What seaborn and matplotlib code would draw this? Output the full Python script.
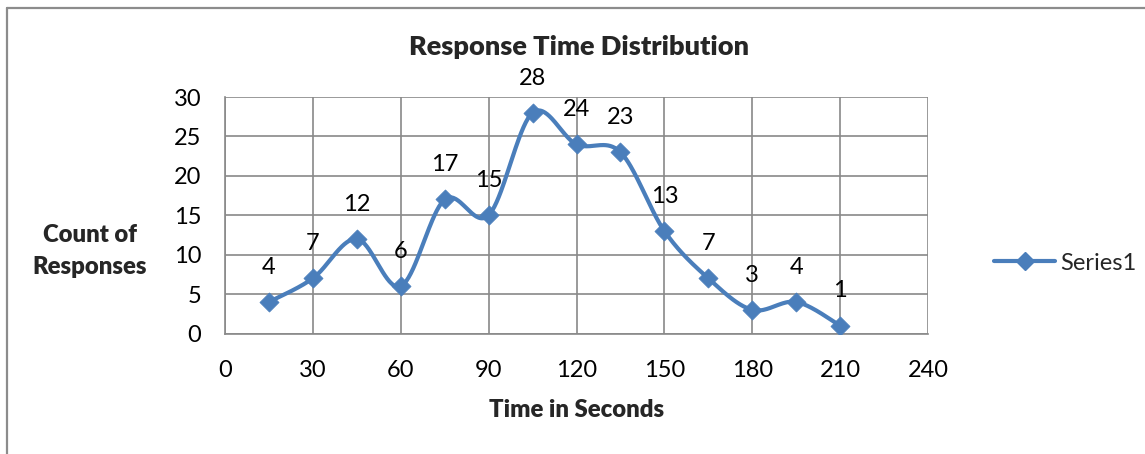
import numpy as np
import pandas as pd
import matplotlib
matplotlib.use("Agg")
import matplotlib.pyplot as plt
from matplotlib.lines import Line2D
import seaborn as sns

# Response time histogram: bin centre (seconds) and number of responses
seconds = [15, 30, 45, 60, 75, 90, 105, 120, 135, 150, 165, 180, 195, 210]
counts = [4, 7, 12, 6, 17, 15, 28, 24, 23, 13, 7, 3, 4, 1]
x_ticks = [0, 30, 60, 90, 120, 150, 180, 210, 240]
y_ticks = [0, 5, 10, 15, 20, 25, 30]
series_name = "Series1"

BLUE = "#4A7EBB"
GRID = "#898989"

sns.set_theme(style="white")
plt.rcParams["font.family"] = ["Lato", "DejaVu Sans"]

df = pd.DataFrame({"seconds": seconds, "count": counts})


def smooth_curve(xs, ys, steps=40):
    """Catmull-Rom style Bezier smoothing through every point."""
    px = np.asarray(xs, float)
    py = np.asarray(ys, float)
    n = len(px)
    out_x, out_y = [], []
    t = np.linspace(0, 1, steps)
    for i in range(n - 1):
        i0, i3 = max(i - 1, 0), min(i + 2, n - 1)
        p0 = np.array([px[i], py[i]])
        p3 = np.array([px[i + 1], py[i + 1]])
        c1 = p0 + (np.array([px[i + 1], py[i + 1]]) - np.array([px[i0], py[i0]])) / 6
        c2 = p3 - (np.array([px[i3], py[i3]]) - np.array([px[i], py[i]])) / 6
        b = ((1 - t) ** 3)[:, None] * p0 + (3 * (1 - t) ** 2 * t)[:, None] * c1 \
            + (3 * (1 - t) * t ** 2)[:, None] * c2 + (t ** 3)[:, None] * p3
        out_x.extend(b[:, 0])
        out_y.extend(b[:, 1])
    return pd.DataFrame({"seconds": out_x, "count": out_y})


curve = smooth_curve(df["seconds"], df["count"])

fig = plt.figure(figsize=(11.45, 4.54), dpi=100)
ax = fig.add_axes([225 / 1145, 1 - 333.5 / 454, (928 - 225) / 1145, (333.5 - 97) / 454])

sns.lineplot(data=curve, x="seconds", y="count", ax=ax, color=BLUE, lw=3.0,
             sort=False, estimator=None, zorder=3)
sns.scatterplot(data=df, x="seconds", y="count", ax=ax, marker="D", s=95,
                color=BLUE, edgecolor=BLUE, linewidth=0.5, zorder=4)

for xv, yv in zip(seconds, counts):
    ax.annotate(str(yv), (xv, yv), xytext=(0, 25), textcoords="offset points",
                ha="center", va="center", fontsize=17, color="black")

ax.set_xlim(0, 240)
ax.set_ylim(0, 30)
ax.set_xticks(x_ticks)
ax.set_yticks(y_ticks)
ax.tick_params(axis="both", labelsize=17, colors=GRID, labelcolor="black",
               length=6, width=1.2, pad=11, direction="out")
ax.tick_params(axis="x", pad=13)
ax.grid(True, color=GRID, lw=1.2)
for side in ["top", "right"]:
    ax.spines[side].set_visible(False)
for side in ["left", "bottom"]:
    ax.spines[side].set_color(GRID)
    ax.spines[side].set_linewidth(1.2)
ax.set_xlabel("")
ax.set_ylabel("")

fig.text(579 / 1145, 1 - 47 / 454, "Response Time Distribution", ha="center",
         va="center", fontsize=19.5, fontweight="heavy")
fig.text(577 / 1145, 1 - 410 / 454, "Time in Seconds", ha="center", va="center",
         fontsize=17.2, fontweight="heavy")
fig.text(90 / 1145, 1 - 251 / 454, "Count of\nResponses", ha="center", va="center",
         fontsize=17.2, fontweight="heavy", multialignment="center", linespacing=1.5)

handle = Line2D([], [], color=BLUE, lw=3.0, marker="D", markersize=9.5)
fig.legend([handle], [series_name], loc="center left",
           bbox_to_anchor=(982 / 1145, 1 - 263 / 454), frameon=False,
           fontsize=17, handlelength=2.6, handletextpad=0.2, borderpad=0)

# Chart-area outline along the top and left edges
fig.add_artist(Line2D([7 / 1145, 7 / 1145], [0, 1 - 7.5 / 454], transform=fig.transFigure,
                      color="#8c8c8c", lw=1.6))
fig.add_artist(Line2D([7 / 1145, 1], [1 - 7.5 / 454, 1 - 7.5 / 454], transform=fig.transFigure,
                      color="#8c8c8c", lw=1.6))

fig.savefig("out.png", dpi=100)
